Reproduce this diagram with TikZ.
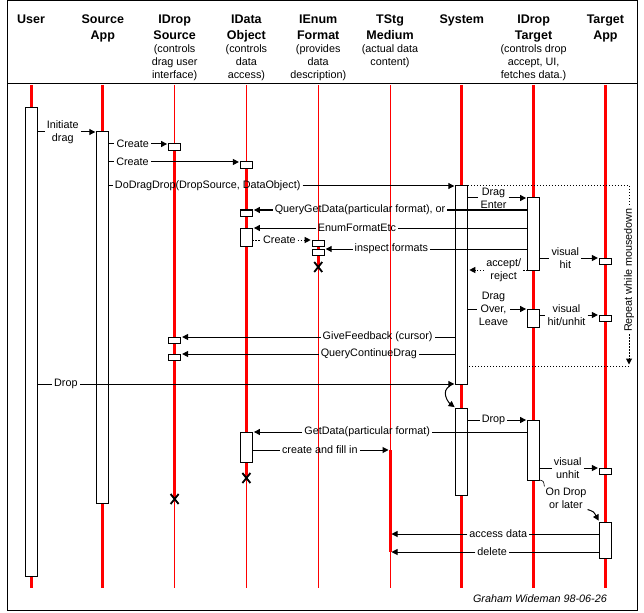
\documentclass[tikz,border=0pt]{standalone}
\usepackage{fontspec}
\setmainfont{Liberation Sans}
\usetikzlibrary{arrows.meta}
\newcommand{\lblfont}{\fontsize{10.8}{13}\selectfont}
\newcommand{\ttlfont}{\fontsize{12.5}{16}\selectfont\bfseries}
% message left-to-right: [style]{from}{to}{pos}{text}{name}
\newcommand{\msgR}[6][]{%
  \coordinate (ms) at (#2); \coordinate (mt) at (#3);
  \path (ms) -- (mt) node[lbl, pos=#4] (#6) {#5};
  \draw[seg,#1] (ms) -- (#6.west |- ms);
  \draw[seg,tip,#1] (#6.east |- ms) -- (mt);
}
% message right-to-left
\newcommand{\msgL}[6][]{%
  \coordinate (ms) at (#2); \coordinate (mt) at (#3);
  \path (ms) -- (mt) node[lbl, pos=#4] (#6) {#5};
  \draw[seg,#1] (ms) -- (#6.east |- ms);
  \draw[seg,tip,#1] (#6.west |- ms) -- (mt);
}
\begin{document}
\begin{tikzpicture}[x=1pt,y=-1pt,
  seg/.style={draw=black, line width=1pt},
  tip/.style={-{Triangle[length=6pt,width=6pt]}, shorten >=1.5pt},
  dotln/.style={dash pattern=on 1.5pt off 1.5pt},
  lbl/.style={inner sep=2pt, font=\lblfont, align=center},
  ttl/.style={anchor=base, inner sep=0pt, font=\ttlfont},
  sub/.style={anchor=base, inner sep=0pt, font=\lblfont},
  act/.style={draw=black, fill=white, line width=1pt, minimum width=12pt,
    inner sep=0pt, outer sep=0pt, anchor=north},
  lifeT/.style={draw=red, line width=3pt},
  lifeN/.style={draw=red, line width=1pt},
  xm/.style={draw=black, line width=1.8pt}]
\useasboundingbox (0,0) rectangle (644,612);
% frame
\draw[seg] (7.5,0.5) rectangle (637.5,610.5);
\draw[seg] (7.5,84) -- (637.5,84);

% header
\node[ttl] (h1) at (31,24) {User};
\node[ttl] (h2a) at (102.8,24) {Source};
\node[ttl] (h2b) at (102.8,40) {App};
\node[ttl] (h3a) at (174.6,24) {IDrop};
\node[ttl] (h3b) at (174.6,40) {Source};
\node[sub] (h3c) at (174.6,53) {(controls};
\node[sub] (h3d) at (174.6,66) {drag user};
\node[sub] (h3e) at (174.6,79) {interface)};
\node[ttl] (h4a) at (246.4,24) {IData};
\node[ttl] (h4b) at (246.4,40) {Object};
\node[sub] (h4c) at (246.4,53) {(controls};
\node[sub] (h4d) at (246.4,66) {data};
\node[sub] (h4e) at (246.4,79) {access)};
\node[ttl] (h5a) at (318.2,24) {IEnum};
\node[ttl] (h5b) at (318.2,40) {Format};
\node[sub] (h5c) at (318.2,53) {(provides};
\node[sub] (h5d) at (318.2,66) {data};
\node[sub] (h5e) at (318.2,79) {description)};
\node[ttl] (h6a) at (390,24) {TStg};
\node[ttl] (h6b) at (390,40) {Medium};
\node[sub] (h6c) at (390,53) {(actual data};
\node[sub] (h6d) at (390,66) {content)};
\node[ttl] (h7) at (461.8,24) {System};
\node[ttl] (h8a) at (533.6,24) {IDrop};
\node[ttl] (h8b) at (533.6,40) {Target};
\node[sub] (h8c) at (533.6,53) {(controls drop};
\node[sub] (h8d) at (533.6,66) {accept, UI,};
\node[sub] (h8e) at (533.6,79) {fetches data.)};
\node[ttl] (h9a) at (605.4,24) {Target};
\node[ttl] (h9b) at (605.4,40) {App};

% lifelines
\coordinate (t1) at (31,85);    \coordinate (b1) at (31,588);
\coordinate (t2) at (102.8,85); \coordinate (b2) at (102.8,588);
\coordinate (t3) at (174.6,85); \coordinate (b3) at (174.6,588);
\coordinate (t4) at (246.4,85); \coordinate (b4) at (246.4,588);
\coordinate (t5) at (318.2,85); \coordinate (b5) at (318.2,588);
\coordinate (t6) at (390,85);   \coordinate (b6) at (390,588);
\coordinate (t7) at (461.8,85); \coordinate (b7) at (461.8,588);
\coordinate (t8) at (533.6,85); \coordinate (b8) at (533.6,588);
\coordinate (t9) at (605.4,85); \coordinate (b9) at (605.4,588);
\coordinate (x3) at (174.6,499);
\coordinate (x4) at (246.4,478);
\coordinate (x5) at (318.2,267);
\coordinate (ts1) at (390,450);
\coordinate (ts2) at (390,552);
\coordinate (ts3) at (390,534);
\draw[lifeT] (t1) -- (b1);
\draw[lifeT] (t2) -- (b2);
\draw[lifeN] (t3) -- (b3);
\draw[lifeT] (174.6,150) -- (x3);
\draw[lifeN] (t4) -- (b4);
\draw[lifeT] (246.4,162) -- (x4);
\draw[lifeN] (t5) -- (b5);
\draw[lifeT] (318.2,240) -- (x5);
\draw[lifeN] (t6) -- (b6);
\draw[lifeT] (ts1) -- (ts2);
\draw[lifeT] (t7) -- (b7);
\draw[lifeT] (t8) -- (b8);
\draw[lifeT] (t9) -- (b9);

% activation boxes
\node[act, minimum height=468pt] (ub) at (31,108) {};
\node[act, minimum height=371pt] (sa) at (102.8,132) {};
\node[act, minimum height=6.5pt] (ds1) at (174.6,144) {};
\node[act, minimum height=6.5pt] (ds2) at (174.6,337) {};
\node[act, minimum height=6.5pt] (ds3) at (174.6,354) {};
\node[act, minimum height=6.5pt] (do1) at (246.4,162) {};
\node[act, minimum height=6.5pt] (do2) at (246.4,210) {};
\node[act, minimum height=18pt] (do3) at (246.4,228) {};
\node[act, minimum height=30pt] (do4) at (246.4,432) {};
\node[act, minimum height=6.5pt] (ef1) at (318.2,240) {};
\node[act, minimum height=6pt] (ef2) at (318.2,249) {};
\node[act, minimum height=198pt] (s1) at (461.8,186) {};
\node[act, minimum height=87pt] (s2) at (461.8,408) {};
\node[act, minimum height=72pt] (dt1) at (533.6,198) {};
\node[act, minimum height=18pt] (dt2) at (533.6,309) {};
\node[act, minimum height=60pt] (dt3) at (533.6,420) {};
\node[act, minimum height=6.5pt] (ta1) at (605.4,258) {};
\node[act, minimum height=6.5pt] (ta2) at (605.4,315) {};
\node[act, minimum height=6.5pt] (ta3) at (605.4,468) {};
\node[act, minimum height=36pt] (ta4) at (605.4,522) {};

% X marks (object destroyed)
\draw[xm] (x3) +(-4,-5) -- +(4,5) +(-4,5) -- +(4,-5);
\draw[xm] (x4) +(-4,-5) -- +(4,5) +(-4,5) -- +(4,-5);
\draw[xm] (x5) +(-4,-5) -- +(4,5) +(-4,5) -- +(4,-5);

% messages
\msgR{ub.east |- sa.north}{sa.north west}{0.43}{Initiate\\drag}{m1}
\msgR{sa.east |- ds1.north}{ds1.north west}{0.40}{Create}{m2}
\msgR{sa.east |- do1.north}{do1.north west}{0.18}{Create}{m3}
\msgR{sa.east |- s1.north}{s1.north west}{0.285}{DoDragDrop(DropSource, DataObject)}{m4}
\msgR{s1.east |- dt1.north}{dt1.north west}{0.43}{Drag\\Enter}{m5}
\msgL{dt1.west |- do2.north}{do2.north east}{0.609}{QueryGetData(particular format), or}{m6}
\msgL{dt1.west |- do3.north}{do3.north east}{0.62}{EnumFormatEtc}{m7}
\msgR[dotln]{do3.east |- ef1.north}{ef1.north west}{0.45}{Create}{m8}
\msgL{dt1.west |- ef2.north}{ef2.north east}{0.67}{inspect formats}{m9}
\msgR{dt1.east |- ta1.north}{ta1.north west}{0.43}{visual\\hit}{m10}
\msgL[dotln]{dt1.south west}{s1.east |- dt1.south}{0.4}{accept/\\reject}{m11}
\msgR{s1.east |- dt2.north}{dt2.north west}{0.43}{Drag\\Over,\\Leave}{m12}
\msgR{dt2.east |- ta2.north}{ta2.north west}{0.45}{visual\\hit/unhit}{m13}
\msgL{s1.west |- ds2.north}{ds2.north east}{0.284}{GiveFeedback (cursor)}{m14}
\msgL{s1.west |- ds3.north}{ds3.north east}{0.316}{QueryContinueDrag}{m15}
\msgR{ub.east |- s1.south}{s1.south west}{0.069}{Drop}{m16}
\msgR{s2.east |- dt3.north}{dt3.north west}{0.43}{Drop}{m18}
\msgL{dt3.west |- do4.north}{do4.north east}{0.583}{GetData(particular format)}{m19}
\msgR{do4.east |- ts1}{ts1}{0.49}{create and fill in}{m20}
\msgR{dt3.east |- ta3.north}{ta3.north west}{0.47}{visual\\unhit}{m21}
\msgL{ta4.west |- ts3}{ts3}{0.483}{access data}{m22}
\msgL{ta4.west |- ts2}{ts2}{0.512}{delete}{m23}

% system self-transition
\draw[seg,tip] ([shift={(-6pt,-2pt)}]s1.south west) .. controls +(-9pt,-5pt) and +(-8pt,6pt) .. (s2.north west);

% repeat loop
\coordinate (lp1) at (629,186);
\coordinate (lp2) at (629,366);
\draw[seg,dotln] (s1.north east) -- (lp1);
\path (lp1) -- (lp2) node[lbl, rotate=90, pos=0.467] (rep) {Repeat while mousedown};
\draw[seg,dotln] (lp1) -- (rep.east);
\draw[seg,dotln,tip] (rep.west) -- (lp2);
\draw[seg,dotln] (lp2) -- (s1.east |- lp2);

% on drop or later
\node[lbl, inner sep=1pt] (od) at (566,498) {On Drop\\or later};
\draw[draw=black, line width=0.6pt] (dt3.south east) .. controls +(4pt,-1pt) .. (od.north west);
\draw[seg,tip] (od.south east) .. controls +(6pt,-2pt) .. (ta4.north west);

% signature
\node[anchor=east, inner sep=0pt, font=\lblfont\itshape] (sig) at (607,599) {Graham Wideman 98-06-26};
\end{tikzpicture}
\end{document}
